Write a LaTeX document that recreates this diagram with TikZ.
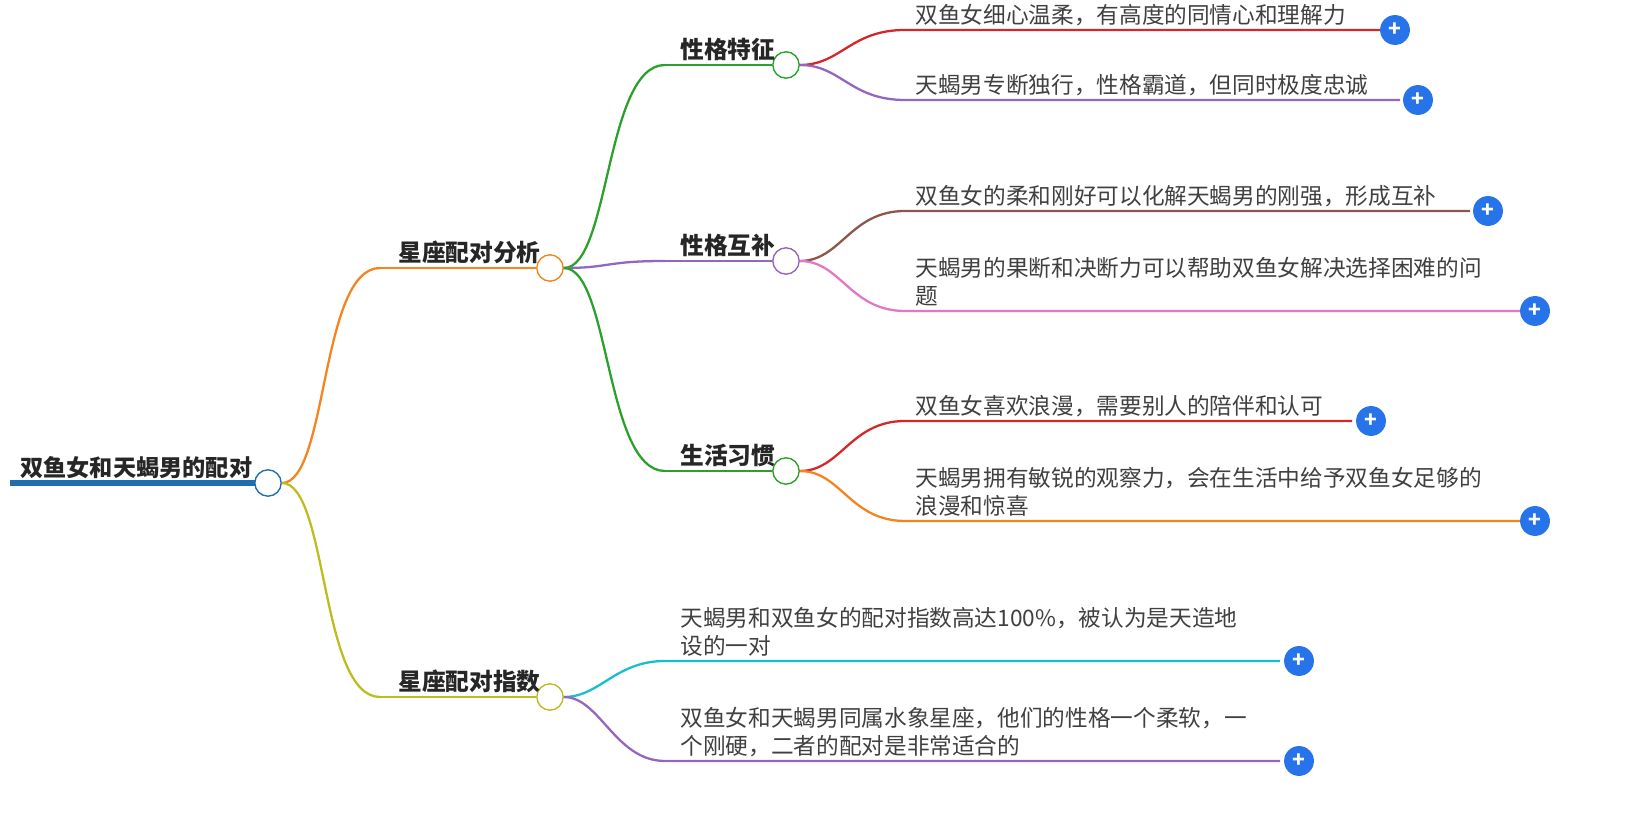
\documentclass[tikz,border=0pt]{standalone}
\usepackage{fontspec}
\setmainfont{Noto Sans CJK SC}
\usetikzlibrary{positioning,calc}
\definecolor{cBlue}{HTML}{1F6FB0}
\definecolor{cOrange}{HTML}{F5841F}
\definecolor{cOlive}{HTML}{BDBD22}
\definecolor{cGreen}{HTML}{2CA02C}
\definecolor{cPurple}{HTML}{9467BD}
\definecolor{cRed}{HTML}{D62728}
\definecolor{cBrown}{HTML}{8C564B}
\definecolor{cPink}{HTML}{E377C2}
\definecolor{cCyan}{HTML}{17BECF}
\definecolor{cPlus}{HTML}{2673EA}
\tikzset{
  hub/.style={circle, draw=#1, thick, fill=white, inner sep=0pt, minimum size=15pt},
  topic/.style={anchor=base west, font=\bfseries\fontsize{13.5}{16}\selectfont, text=black!85, inner sep=0pt},
  leaf/.style={anchor=base west, font=\fontsize{12.9}{16.3}\selectfont, text=black!75, inner sep=0pt, align=left},
  plus/.style={circle, fill=cPlus, inner sep=0pt, minimum size=17pt, text=white, font=\bfseries\large},
  wire/.style={line width=1.3pt, draw=#1}
}
\newcommand{\branch}[4]{% color, from, to-circle/coord, dx
  \draw[wire=#1] (#2) .. controls ($(#2)+(#4,0)$) and ($(#3)-(#4,0)$) .. (#3);}
\begin{document}
\begin{tikzpicture}[x=0.02cm,y=-0.02cm]
  \useasboundingbox (0,0) rectangle (1637,813);
  % root
  \node[topic, font=\bfseries\fontsize{13.2}{16}\selectfont] (rootT) at (20,477) {双鱼女和天蝎男的配对};
  \draw[line width=3pt, cBlue] (10,483) -- (260,483);
  \node[hub=cBlue] (root) at (268,483) {};
  % level 1
  \coordinate (aS) at (380,268); \node[hub=cOrange] (a) at (550,268) {};
  \coordinate (bS) at (380,697); \node[hub=cOlive] (b) at (550,697) {};
  \node[topic] (aT) at (398,262) {星座配对分析};
  \node[topic] (bT) at (398,691) {星座配对指数};
  \branch{cOrange}{root}{aS}{60} \draw[wire=cOrange] (aS) -- (a);
  \branch{cOlive}{root}{bS}{60} \draw[wire=cOlive] (bS) -- (b);
  % level 2
  \coordinate (cS) at (665,65); \node[hub=cGreen] (c) at (786,65) {};
  \coordinate (dS) at (665,261); \node[hub=cPurple] (d) at (786,261) {};
  \coordinate (eS) at (665,471); \node[hub=cGreen] (e) at (786,471) {};
  \node[topic] at (680,59) {性格特征};
  \node[topic] at (680,255) {性格互补};
  \node[topic] at (680,465) {生活习惯};
  \branch{cGreen}{a}{cS}{60} \draw[wire=cGreen] (cS) -- (c);
  \branch{cPurple}{a}{dS}{60} \draw[wire=cPurple] (dS) -- (d);
  \branch{cGreen}{a}{eS}{60} \draw[wire=cGreen] (eS) -- (e);
  % leaves
  \foreach \pnode/\col/\y/\xe/\px/\txt/\ty [count=\i] in {
    c/cRed/30/1385/1395/{双鱼女细心温柔，有高度的同情心和理解力}/24,
    c/cPurple/100/1400/1418/{天蝎男专断独行，性格霸道，但同时极度忠诚}/94,
    d/cBrown/211/1470/1488/{双鱼女的柔和刚好可以化解天蝎男的刚强，形成互补}/205,
    d/cPink/311/1520/1535/{天蝎男的果断和决断力可以帮助双鱼女解决选择困难的问\\题}/305,
    e/cRed/421/1352/1371/{双鱼女喜欢浪漫，需要别人的陪伴和认可}/415,
    e/cOrange/521/1520/1535/{天蝎男拥有敏锐的观察力，会在生活中给予双鱼女足够的\\浪漫和惊喜}/515}{
    \coordinate (s\i) at (905,\y);
    \draw[wire=\col] (\pnode) .. controls ($(\pnode)+(55,0)$) and ($(s\i)-(55,0)$) .. (s\i) -- (\xe,\y);
    \node[leaf] (t\i) at (915,\ty) {\txt};
    \node[plus] (p\i) at (\px,\y) {+};
  }
  \foreach \col/\y/\txt/\ty [count=\i from 7] in {
    cCyan/661/{天蝎男和双鱼女的配对指数高达100\%，被认为是天造地\\设的一对}/655,
    cPurple/761/{双鱼女和天蝎男同属水象星座，他们的性格一个柔软，一\\个刚硬，二者的配对是非常适合的}/755}{
    \coordinate (s\i) at (665,\y);
    \draw[wire=\col] (b) .. controls ($(b)+(50,0)$) and ($(s\i)-(50,0)$) .. (s\i) -- (1280,\y);
    \node[leaf] (t\i) at (680,\ty) {\txt};
    \node[plus] (p\i) at (1299,\y) {+};
  }
\end{tikzpicture}
\end{document}
